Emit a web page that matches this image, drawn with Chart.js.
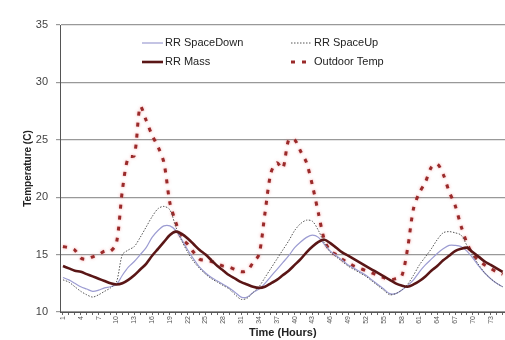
<!DOCTYPE html>
<html>
<head>
<meta charset="utf-8">
<script src="https://cdn.jsdelivr.net/npm/chart.js@4.4.0/dist/chart.umd.min.js"></script>
<style>
  html, body { margin: 0; padding: 0; background: #fff; overflow: hidden; }
  #wrap { width: 512px; height: 340px; }
</style>
</head>
<body>
<div id="wrap"><canvas id="chart" width="512" height="340"></canvas></div>
<script>
const hours = Array.from({length: 75}, (_, i) => String(i + 1));

const spaceDown = [
  13.0, 12.8, 12.5, 12.2, 12.0, 11.8, 11.9, 12.1, 12.2, 12.4,
  13.2, 13.9, 14.4, 15.0, 15.6, 16.5, 17.1, 17.5, 17.5, 17.1,
  16.3, 15.4, 14.6, 13.9, 13.4, 13.0, 12.7, 12.4, 12.1, 11.7,
  11.3, 11.3, 11.7, 12.0, 12.5, 13.1, 13.7, 14.3, 14.9, 15.6,
  16.1, 16.5, 16.7, 16.5, 15.9, 15.3, 14.9, 14.5, 14.1, 13.8,
  13.5, 13.2, 12.8, 12.4, 12.0, 11.6, 11.6, 11.9, 12.3, 12.8,
  13.5, 14.1, 14.6, 15.1, 15.5, 15.8, 15.8, 15.7, 15.3, 14.7,
  14.0, 13.4, 12.9, 12.5, 12.2
];

const spaceUp = [
  12.8, 12.6, 12.2, 11.8, 11.5, 11.3, 11.5, 11.8, 12.1, 12.6,
  15.0, 15.4, 15.7, 16.5, 17.4, 18.3, 19.0, 19.2, 18.9, 17.4,
  16.2, 15.2, 14.4, 13.8, 13.3, 12.9, 12.6, 12.3, 12.0, 11.5,
  11.1, 11.2, 11.7, 12.2, 13.0, 13.8, 14.6, 15.4, 16.2, 17.1,
  17.7, 18.0, 17.9, 17.1, 16.0, 15.2, 14.8, 14.4, 14.0, 13.7,
  13.4, 13.1, 12.7, 12.3, 11.9, 11.5, 11.6, 11.9, 12.4, 13.2,
  14.1, 14.8, 15.5, 16.3, 16.9, 17.0, 16.9, 16.7, 15.8, 14.9,
  14.1, 13.4, 12.9, 12.5, 12.2
];

const mass = [
  14.0, 13.8, 13.6, 13.5, 13.3, 13.1, 12.9, 12.7, 12.5, 12.4,
  12.5, 12.8, 13.2, 13.7, 14.2, 14.9, 15.5, 16.1, 16.7, 17.0,
  16.8, 16.4, 15.9, 15.4, 15.0, 14.5, 14.0, 13.6, 13.2, 12.9,
  12.6, 12.4, 12.2, 12.1, 12.2, 12.5, 12.8, 13.2, 13.6, 14.1,
  14.6, 15.2, 15.7, 16.1, 16.3, 16.0, 15.6, 15.2, 14.9, 14.6,
  14.3, 14.0, 13.7, 13.4, 13.1, 12.8, 12.5, 12.3, 12.2, 12.4,
  12.7, 13.1, 13.6, 14.0, 14.5, 14.9, 15.3, 15.5, 15.6, 15.2,
  14.8, 14.4, 14.1, 13.8, 13.5
];

const outdoor = [
  15.7, 15.6, 15.4, 14.7, 14.6, 14.8, 15.0, 15.3, 15.3, 16.0,
  20.6, 23.5, 23.6, 27.9, 26.7, 25.4, 24.4, 23.0, 19.5, 17.8,
  16.4, 15.9, 15.2, 14.6, 14.5, 14.4, 14.2, 14.0, 13.9, 13.7,
  13.5, 13.6, 14.3, 15.0, 18.6, 22.1, 23.0, 22.5, 25.0, 25.0,
  24.0, 23.0, 21.0, 18.6, 16.3, 15.3, 15.0, 14.6, 14.3, 14.0,
  13.8, 13.6, 13.4, 13.2, 13.0, 12.8, 12.9, 13.1, 15.5, 19.0,
  20.4, 21.3, 22.6, 22.9, 22.0, 20.5, 19.3, 17.5, 16.0, 15.0,
  14.5, 14.1, 13.8, 13.5, 13.3
];

const seriesNames = ['RR SpaceDown', 'RR SpaceUp', 'RR Mass', 'Outdoor Temp'];
const yTicks = [10, 15, 20, 25, 30, 35];

const font = 'Liberation Sans';

// soft pink glow round the outdoor dots
const outdoorGlow = {
  id: 'outdoorGlow',
  beforeDatasetDraw(chart, args) {
    if (args.index !== 3) return;
    const ctx = chart.ctx;
    ctx.save();
    ctx.shadowColor = 'rgba(235, 110, 110, 0.7)';
    ctx.shadowBlur = 3;
  },
  afterDatasetDraw(chart, args) {
    if (args.index === 3) chart.ctx.restore();
  }
};

// legend drawn inside the plot, two columns
const legendInside = {
  id: 'legendInside',
  afterDraw(chart) {
    const ctx = chart.ctx;
    const slots = [[142, 43], [291, 43], [142, 62], [291, 62]];
    ctx.save();
    chart.data.datasets.forEach((ds, i) => {
      const [x, y] = slots[i];
      ctx.beginPath();
      ctx.strokeStyle = ds.borderColor;
      ctx.lineWidth = ds.borderWidth;
      ctx.setLineDash(ds.borderDash || []);
      ctx.moveTo(x, y);
      ctx.lineTo(x + 21, y);
      ctx.stroke();
      ctx.setLineDash([]);
      ctx.fillStyle = '#222';
      ctx.font = '11px ' + font;
      ctx.textBaseline = 'middle';
      ctx.fillText(ds.label, x + 23, y);
    });
    ctx.restore();
  }
};

new Chart(document.getElementById('chart'), {
  type: 'line',
  data: {
    labels: hours,
    datasets: [
      { label: seriesNames[0], data: spaceDown, borderColor: '#9c9cd2', borderWidth: 1.2, order: 3 },
      { label: seriesNames[1], data: spaceUp, borderColor: '#555', borderWidth: 1, borderDash: [1.5, 1.5], order: 2 },
      { label: seriesNames[2], data: mass, borderColor: '#5a1616', borderWidth: 2.6, order: 1 },
      { label: seriesNames[3], data: outdoor, borderColor: '#9a2a2a', borderWidth: 3, borderDash: [4, 7], order: 4 }
    ]
  },
  options: {
    responsive: false,
    animation: false,
    layout: { padding: { left: 22, right: 2, top: 25, bottom: 0 } },
    elements: {
      point: { radius: 0 },
      line: { tension: 0.3, fill: false, borderCapStyle: 'butt' }
    },
    plugins: { legend: { display: false }, tooltip: { enabled: false } },
    scales: {
      x: {
        offset: true,
        afterFit(scale) { scale.height = 28; },
        border: { color: '#555', width: 1 },
        grid: { drawOnChartArea: false, drawTicks: true, tickLength: 3, color: '#666' },
        ticks: {
          autoSkip: false,
          minRotation: 90,
          maxRotation: 90,
          padding: 1,
          color: '#555',
          font: { family: font, size: 7 },
          callback: (v, i) => (i % 3 === 0 ? hours[i] : '')
        },
        title: {
          display: true,
          text: 'Time (Hours)',
          color: '#222',
          font: { family: font, size: 11, weight: 'bold' },
          padding: { top: 0, bottom: 0 }
        }
      },
      y: {
        min: 10,
        max: 35,
        afterFit(scale) { scale.width = 38; },
        afterBuildTicks(scale) { scale.ticks = yTicks.map(v => ({ value: v })); },
        border: { color: '#555', width: 1 },
        grid: { color: '#999', lineWidth: 1.2, tickLength: 4 },
        ticks: {
          padding: 8,
          color: '#444',
          font: { family: font, size: 11 }
        },
        title: {
          display: true,
          text: 'Temperature (C)',
          color: '#222',
          font: { family: font, size: 10, weight: 'bold' },
          padding: { top: 0, bottom: 0 }
        }
      }
    }
  },
  plugins: [outdoorGlow, legendInside]
});
</script>
</body>
</html>
